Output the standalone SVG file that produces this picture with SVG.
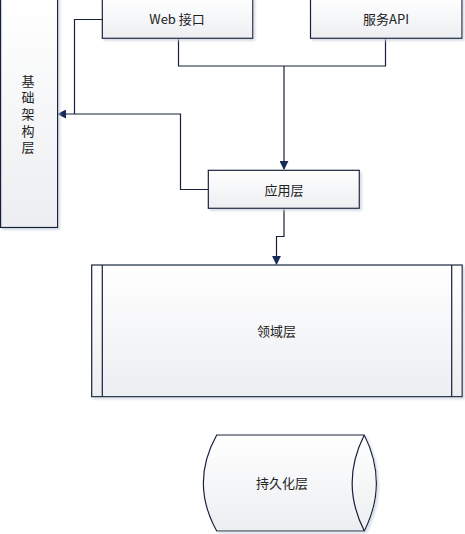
<svg xmlns="http://www.w3.org/2000/svg" width="465" height="534" viewBox="0 0 465 534">
<defs>
<linearGradient id="g" x1="0" y1="0" x2="0" y2="1">
<stop offset="0" stop-color="#ffffff"/>
<stop offset="1" stop-color="#eceef1"/>
</linearGradient>
<marker id="arr" viewBox="0 0 10 10" refX="9" refY="5" markerWidth="9" markerHeight="9" markerUnits="userSpaceOnUse" orient="auto">
<path d="M0,0 L10,5 L0,10 Z" fill="#162a5a"/>
</marker>
<filter id="sh" x="-10%" y="-10%" width="130%" height="130%">
<feDropShadow dx="2" dy="2" stdDeviation="1" flood-color="#c8d0dc" flood-opacity="0.7"/>
</filter>
</defs>
<style>
.n{fill:url(#g);stroke:#17203a;stroke-width:1.2;filter:url(#sh)}
.l{fill:none;stroke:#17203a;stroke-width:1.2}
.c{fill:none;stroke:#17203a;stroke-width:1.2}
text{font-family:"Noto Sans CJK SC","DejaVu Sans",sans-serif;font-size:13px;fill:#222;text-anchor:middle;dominant-baseline:central}
.v{writing-mode:vertical-rl;letter-spacing:3.7px}
</style>
<rect width="465" height="534" fill="#ffffff"/>
<g id="connectors">
<polyline class="c" points="178.5,38 178.5,66 385.5,66 385.5,38"/>
<polyline class="c" points="284,66 284,169" marker-end="url(#arr)"/>
<polyline class="c" points="208,189.5 180.5,189.5 180.5,114 58,114" marker-end="url(#arr)"/>
<polyline class="c" points="102,19.5 74.5,19.5 74.5,114"/>
<polyline class="c" points="284,208 284,236.5 276.5,236.5 276.5,264" marker-end="url(#arr)"/>
</g>
<g id="infra">
<rect class="n" x="0.6" y="-2" width="57" height="229.5"/>
<text class="v" x="28" y="116">基础架构层</text>
</g>
<g id="web">
<rect class="n" x="102.3" y="-2" width="150.5" height="40.3"/>
<text x="177" y="18.5">Web 接口</text>
</g>
<g id="api">
<rect class="n" x="310.5" y="-2" width="151.5" height="40.3"/>
<text x="386" y="18.5">服务API</text>
</g>
<g id="app">
<rect class="n" x="208.3" y="170.3" width="151" height="38"/>
<text x="284" y="189">应用层</text>
</g>
<g id="domain">
<rect class="n" x="91.7" y="265" width="370.5" height="131.7"/>
<line class="l" x1="102.3" y1="265" x2="102.3" y2="396.7"/>
<line class="l" x1="451.7" y1="265" x2="451.7" y2="396.7"/>
<text x="276.5" y="330.5">领域层</text>
</g>
<g id="persist">
<path class="n" d="M216.7,435 L364.3,435 Q388.5,483 364.3,531 L216.7,531 Q190,483 216.7,435 Z"/>
<path class="l" d="M364.3,435 Q340,483 364.3,531"/>
<text x="282" y="482.5">持久化层</text>
</g>
</svg>
